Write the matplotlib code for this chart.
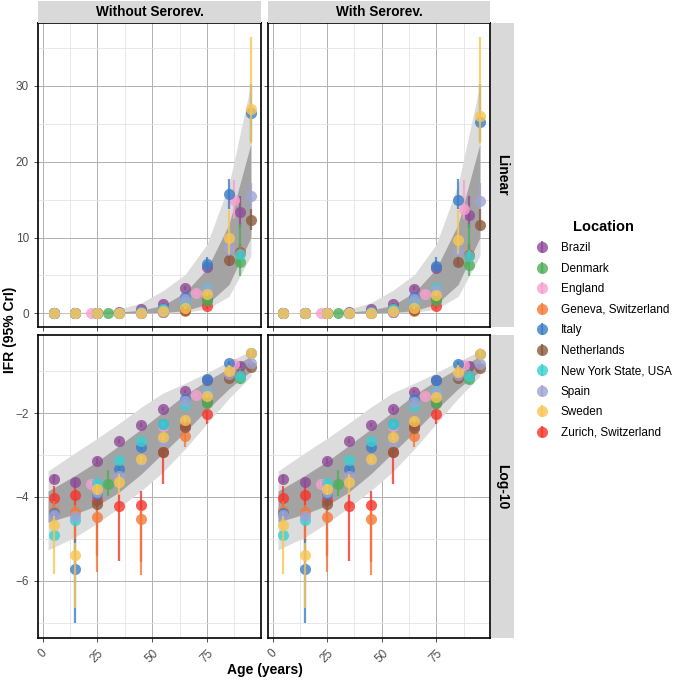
import numpy as np
import matplotlib
matplotlib.use("Agg")
import matplotlib.pyplot as plt

plt.rcParams['font.family'] = ['Liberation Sans', 'DejaVu Sans']

# log10 IFR (proportion); linear panels show the same values in percent
brazil_age = [5, 15, 25, 35, 45, 55, 65, 75, 90]
brazil_wo = [-3.56, -3.64, -3.14, -2.66, -2.28, -1.90, -1.48, -1.21, -0.876]
brazil_w = [-3.56, -3.64, -3.14, -2.66, -2.28, -1.90, -1.49, -1.22, -0.889]
brazil_lo = [-3.66, -3.74, -3.22, -2.72, -2.33, -1.94, -1.52, -1.25, -0.947]
brazil_hi = [-3.48, -3.56, -3.08, -2.61, -2.24, -1.86, -1.45, -1.17, -0.810]

denmark_age = [30, 75, 90]
denmark_wo = [-3.68, -1.76, -1.167]
denmark_w = [-3.68, -1.77, -1.194]
denmark_lo = [-3.98, -1.82, -1.31]
denmark_hi = [-3.36, -1.70, -0.928]

england_age = [22, 55, 70, 87.5]
england_wo = [-3.68, -2.32, -1.58, -0.824]
england_w = [-3.68, -2.32, -1.59, -0.863]
england_lo = [-3.74, -2.38, -1.62, -0.903]
england_hi = [-3.62, -2.26, -1.54, -0.754]

geneva_age = [5, 15, 25, 45, 65]
geneva_wo = [-4.33, -4.36, -4.47, -4.52, -2.54]
geneva_w = [-4.33, -4.36, -4.47, -4.52, -2.54]
geneva_lo = [-4.60, -5.60, -5.78, -5.85, -2.82]
geneva_hi = [-4.10, -4.20, -4.25, -4.30, -2.42]

italy_age = [5, 15, 25, 35, 45, 55, 65, 75, 85, 95]
italy_wo = [-4.39, -5.72, -3.92, -3.34, -2.82, -2.25, -1.66, -1.187, -0.804, -0.577]
italy_w = [-4.39, -5.72, -3.92, -3.34, -2.82, -2.25, -1.67, -1.208, -0.824, -0.599]
italy_lo = [-4.50, -7.01, -4.00, -3.42, -2.88, -2.30, -1.70, -1.252, -0.860, -0.646]
italy_hi = [-4.30, -5.00, -3.85, -3.27, -2.77, -2.20, -1.62, -1.131, -0.750, -0.519]

netherlands_age = [25, 55, 65, 75, 85, 95]
netherlands_wo = [-4.16, -2.93, -2.34, -1.74, -1.155, -0.910]
netherlands_w = [-4.16, -2.93, -2.35, -1.75, -1.171, -0.932]
netherlands_lo = [-4.24, -3.00, -2.40, -1.79, -1.20, -0.959]
netherlands_hi = [-4.08, -2.87, -2.29, -1.70, -1.11, -0.860]

nys_age = [5, 15, 25, 35, 45, 55, 65, 75, 90]
nys_wo = [-4.90, -4.55, -3.66, -3.12, -2.66, -2.26, -1.81, -1.47, -1.108]
nys_w = [-4.90, -4.55, -3.66, -3.12, -2.66, -2.26, -1.82, -1.48, -1.119]
nys_lo = [-4.98, -4.65, -3.72, -3.17, -2.70, -2.30, -1.85, -1.50, -1.14]
nys_hi = [-4.83, -4.47, -3.60, -3.07, -2.62, -2.22, -1.77, -1.44, -1.08]

spain_age = [5, 15, 25, 35, 45, 55, 65, 75, 85, 95]
spain_wo = [-4.42, -4.46, -3.88, -3.50, -3.14, -2.66, -1.72, -1.50, -1.066, -0.810]
spain_w = [-4.42, -4.46, -3.88, -3.50, -3.14, -2.66, -1.73, -1.51, -1.086, -0.830]
spain_lo = [-4.50, -4.55, -3.94, -3.56, -3.19, -2.71, -1.77, -1.55, -1.12, -0.860]
spain_hi = [-4.35, -4.38, -3.82, -3.44, -3.09, -2.61, -1.67, -1.45, -1.00, -0.764]

sweden_age = [5, 15, 25, 35, 45, 55, 65, 75, 85, 95]
sweden_wo = [-4.67, -5.39, -3.82, -3.64, -3.10, -2.58, -2.17, -1.60, -1.00, -0.569]
sweden_w = [-4.67, -5.39, -3.82, -3.64, -3.10, -2.58, -2.18, -1.61, -1.013, -0.585]
sweden_lo = [-5.84, -6.65, -3.95, -3.95, -3.18, -2.65, -2.24, -1.65, -1.108, -0.650]
sweden_hi = [-4.45, -5.10, -3.70, -3.45, -3.02, -2.50, -2.10, -1.55, -0.866, -0.439]

zurich_age = [5, 15, 25, 35, 45, 55, 65, 75, 90]
zurich_wo = [-4.02, -3.96, -4.06, -4.22, -4.18, -2.93, -2.30, -2.02, -1.092]
zurich_w = [-4.02, -3.96, -4.06, -4.22, -4.18, -2.93, -2.31, -2.03, -1.11]
zurich_lo = [-4.30, -5.06, -5.40, -5.52, -5.54, -3.68, -2.40, -2.26, -1.15]
zurich_hi = [-3.74, -3.70, -3.85, -3.94, -3.86, -2.85, -2.20, -1.95, -1.04]

# modelled IFR credible bands (log10)
band_age = [2.5, 15, 25, 35, 45, 55, 65, 75, 85, 95]
outer_hi = [-3.38, -2.94, -2.60, -2.24, -1.86, -1.52, -1.29, -1.04, -0.77, -0.52]
outer_lo = [-5.26, -4.95, -4.62, -4.25, -3.85, -3.40, -2.85, -2.25, -1.65, -1.12]
inner_hi = [-3.86, -3.48, -3.15, -2.77, -2.38, -1.97, -1.56, -1.23, -0.93, -0.65]
inner_lo = [-4.60, -4.40, -4.20, -3.88, -3.45, -2.95, -2.45, -1.92, -1.42, -1.00]

locations = ["Brazil", "Denmark", "England", "Geneva, Switzerland", "Italy",
             "Netherlands", "New York State, USA", "Spain", "Sweden",
             "Zurich, Switzerland"]
colors = ["#8E4A97", "#4DAF5A", "#F7A1CE", "#F47A3A", "#3C7DC6",
          "#8C5A3F", "#3CCFD0", "#9FA3D3", "#F8C653", "#F5352C"]
series = [
    (brazil_age, brazil_wo, brazil_w, brazil_lo, brazil_hi),
    (denmark_age, denmark_wo, denmark_w, denmark_lo, denmark_hi),
    (england_age, england_wo, england_w, england_lo, england_hi),
    (geneva_age, geneva_wo, geneva_w, geneva_lo, geneva_hi),
    (italy_age, italy_wo, italy_w, italy_lo, italy_hi),
    (netherlands_age, netherlands_wo, netherlands_w, netherlands_lo, netherlands_hi),
    (nys_age, nys_wo, nys_w, nys_lo, nys_hi),
    (spain_age, spain_wo, spain_w, spain_lo, spain_hi),
    (sweden_age, sweden_wo, sweden_w, sweden_lo, sweden_hi),
    (zurich_age, zurich_wo, zurich_w, zurich_lo, zurich_hi),
]
# stacking order of the studies (bottom first)
draw_order = [9, 3, 5, 0, 1, 2, 4, 6, 7, 8]

col_titles = ["Without Serorev.", "With Serorev."]
row_titles = ["Linear", "Log-10"]

W, H = 675, 681
fig = plt.figure(figsize=(W / 100, H / 100), dpi=100)


def rect(x0, y0, x1, y1):
    return [x0 / W, 1 - y1 / H, (x1 - x0) / W, (y1 - y0) / H]


cols_px = [(38, 261), (268, 490)]
rows_px = [(23, 327), (335, 638)]


def scaled(v, row):
    v = np.asarray(v, dtype=float)
    return 100 * 10 ** v if row == 0 else v


handles = [None] * len(locations)
for r, (y0, y1) in enumerate(rows_px):
    for c, (x0, x1) in enumerate(cols_px):
        ax = fig.add_axes(rect(x0, y0, x1, y1))
        ax.fill_between(band_age, scaled(outer_lo, r), scaled(outer_hi, r),
                        color="#DCDCDC", lw=0, zorder=1)
        ax.fill_between(band_age, scaled(inner_lo, r), scaled(inner_hi, r),
                        color="#A3A3A3", lw=0, zorder=1.1)
        for k, i in enumerate(draw_order):
            age, wo, w, lo, hi = series[i]
            med = wo if c == 0 else w
            eb = ax.errorbar(age, scaled(med, r),
                             yerr=[scaled(med, r) - scaled(lo, r), scaled(hi, r) - scaled(med, r)],
                             fmt='o', color=colors[i], ms=8, mew=0, elinewidth=1.6,
                             capsize=0, alpha=0.8, zorder=2 + k * 0.1)
            if r == 0 and c == 0:
                handles[i] = eb

        ax.set_xlim(-2.1, 99.6)
        if r == 0:
            ax.set_ylim(-1.8, 38.3)
            ax.set_yticks([0, 10, 20, 30])
            ax.set_yticks([5, 15, 25, 35], minor=True)
        else:
            ax.set_ylim(-7.36, -0.14)
            ax.set_yticks([-6, -4, -2])
            ax.set_yticks([-7, -5, -3, -1], minor=True)
        ax.set_xticks([0, 25, 50, 75])
        ax.set_xticks([12.5, 37.5, 62.5, 87.5], minor=True)
        ax.grid(which='major', color='#B0B0B0', lw=0.7)
        ax.grid(which='minor', color='#E4E4E4', lw=0.6)
        ax.set_axisbelow(True)
        ax.tick_params(which='minor', length=0)
        ax.tick_params(which='major', length=3, color='#333333', width=0.6,
                       labelsize=8.5, labelcolor='#4D4D4D')
        for sp in ax.spines.values():
            sp.set_color('black')
            sp.set_linewidth(1.2)
        if c == 1:
            ax.tick_params(labelleft=False)
        if r == 0:
            ax.tick_params(labelbottom=False)
        else:
            for lab in ax.get_xticklabels():
                lab.set_rotation(45)
                lab.set_ha('center')
                lab.set_va('top')

        # facet strips
        if r == 0:
            sax = fig.add_axes(rect(x0, 1, x1, y0))
            sax.set_facecolor('#D9D9D9')
            sax.set_xticks([])
            sax.set_yticks([])
            for sp in sax.spines.values():
                sp.set_visible(False)
            sax.text(0.5, 0.5, col_titles[c], ha='center', va='center',
                     fontsize=9.8, fontweight='bold', transform=sax.transAxes)
        if c == 1:
            sax = fig.add_axes(rect(491, y0, 514, y1))
            sax.set_facecolor('#D9D9D9')
            sax.set_xticks([])
            sax.set_yticks([])
            for sp in sax.spines.values():
                sp.set_visible(False)
            sax.text(0.5, 0.5, row_titles[r], ha='center', va='center', rotation=-90,
                     fontsize=10, fontweight='bold', transform=sax.transAxes)

fig.text(10 / W, 1 - 330 / H, "IFR (95% CrI)", rotation=90, ha='center', va='center',
         fontsize=10, fontweight='bold')
fig.text(265 / W, 1 - 670 / H, "Age (years)", ha='center', va='center',
         fontsize=10, fontweight='bold')

fig.legend(handles, locations, loc='upper left', bbox_to_anchor=(530 / W, 1 - 215 / H),
           frameon=False, title="Location", fontsize=8.5,
           title_fontproperties={'weight': 'bold', 'size': 10.5},
           handlelength=1.2, handletextpad=1.0, labelspacing=0.72, borderaxespad=0)

fig.savefig("out.png", dpi=100)
